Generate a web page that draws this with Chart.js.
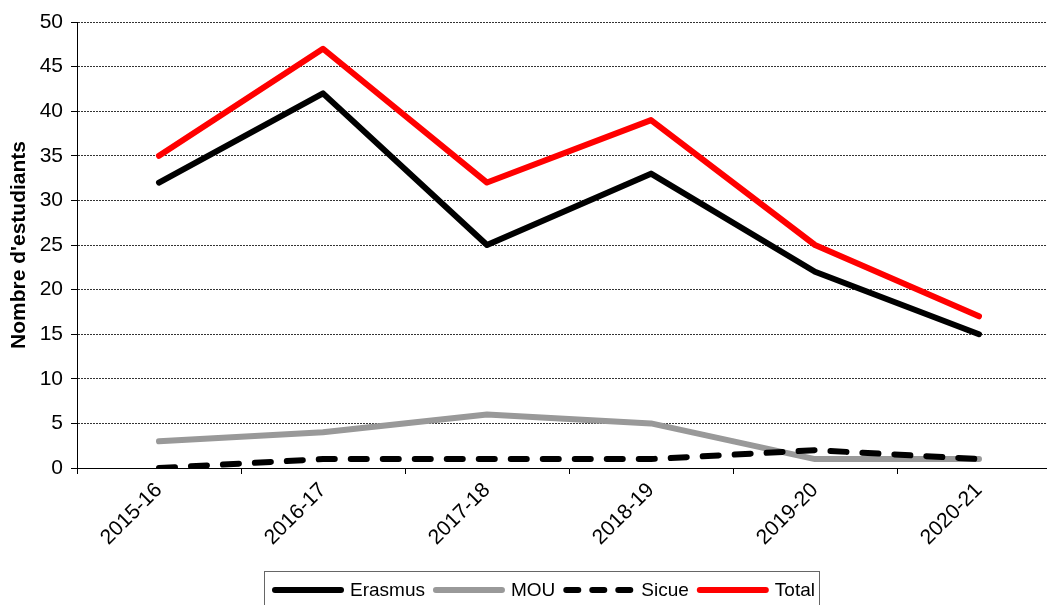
<!DOCTYPE html>
<html>
<head>
<meta charset="utf-8">
<script src="https://cdn.jsdelivr.net/npm/chart.js@4"></script>
<style>
  html, body { margin: 0; padding: 0; background: #fff; overflow: hidden; }
  #wrap { width: 1062px; height: 605px; position: relative; }
</style>
</head>
<body>
<div id="wrap"><canvas id="myChart"></canvas></div>
<script>
const years = ['2015-16', '2016-17', '2017-18', '2018-19', '2019-20', '2020-21'];
const erasmus = [32, 42, 25, 33, 22, 15];
const mou = [3, 4, 6, 5, 1, 1];
const sicue = [0, 1, 1, 1, 2, 1];
const total = [35, 47, 32, 39, 25, 17];
const yTicks = [0, 5, 10, 15, 20, 25, 30, 35, 40, 45, 50];

const FONT = "'Liberation Sans', Arial, sans-serif";

// legend drawn by hand: line sample then label, boxed, at the bottom
const bottomLegend = {
    id: 'bottomLegend',
    afterDraw(chart) {
        const ctx = chart.ctx;
        ctx.save();
        ctx.strokeStyle = '#666';
        ctx.lineWidth = 1;
        ctx.strokeRect(264.5, 571.5, 555, 50);

        ctx.font = '19px ' + FONT;
        ctx.textBaseline = 'middle';
        let x = 272;
        const y = 590;
        chart.data.datasets.forEach(ds => {
            ctx.beginPath();
            ctx.strokeStyle = ds.borderColor;
            ctx.lineWidth = 6;
            ctx.lineCap = 'round';
            ctx.setLineDash(ds.borderDash ? [12, 14] : []);
            ctx.moveTo(x + 3, y);
            ctx.lineTo(x + 69, y);
            ctx.stroke();
            ctx.setLineDash([]);
            x += 78;
            ctx.fillStyle = '#000';
            ctx.fillText(ds.label, x, y + 1);
            x += ctx.measureText(ds.label).width + 8;
        });
        ctx.restore();
    }
};

const ctx = document.getElementById('myChart').getContext('2d');
const chart = new Chart(ctx, {
    type: 'line',
    data: {
        labels: years,
        datasets: [
            { label: 'Erasmus', data: erasmus, borderColor: '#000000', order: 3 },
            { label: 'MOU', data: mou, borderColor: '#999999', order: 2 },
            { label: 'Sicue', data: sicue, borderColor: '#000000', borderDash: [16, 16], order: 1 },
            { label: 'Total', data: total, borderColor: '#ff0000', order: 0 }
        ]
    },
    options: {
        responsive: true,
        maintainAspectRatio: false,
        animation: false,
        layout: { padding: { top: 22, left: 0, right: 1, bottom: 0 } },
        elements: {
            line: { borderWidth: 6, tension: 0, borderCapStyle: 'round', borderJoinStyle: 'round', fill: false },
            point: { radius: 0, hoverRadius: 0 }
        },
        plugins: {
            legend: { display: false },
            tooltip: { enabled: false }
        },
        scales: {
            x: {
                offset: true,
                grid: { offset: true, drawOnChartArea: false, color: '#000', tickLength: 6 },
                border: { color: '#000', width: 1 },
                ticks: {
                    color: '#000',
                    font: { family: FONT, size: 21 },
                    maxRotation: 45,
                    minRotation: 45,
                    padding: 4
                },
                afterFit(scale) { scale.height = 605 - 468; }
            },
            y: {
                min: 0,
                max: 50,
                afterBuildTicks(scale) { scale.ticks = yTicks.map(v => ({ value: v })); },
                grid: { color: '#333', tickColor: '#000', tickLength: 6, tickBorderDash: [] },
                border: { color: '#000', width: 1, dash: [2, 1] },
                ticks: {
                    color: '#000',
                    font: { family: FONT, size: 21 },
                    padding: 8
                },
                title: {
                    display: true,
                    text: "Nombre d'estudiants",
                    color: '#000',
                    font: { family: FONT, size: 21, weight: 'bold' },
                    padding: { top: 7, bottom: 0 }
                },
                afterFit(scale) { scale.width = 77; }
            }
        }
    },
    plugins: [bottomLegend]
});
</script>
</body>
</html>
